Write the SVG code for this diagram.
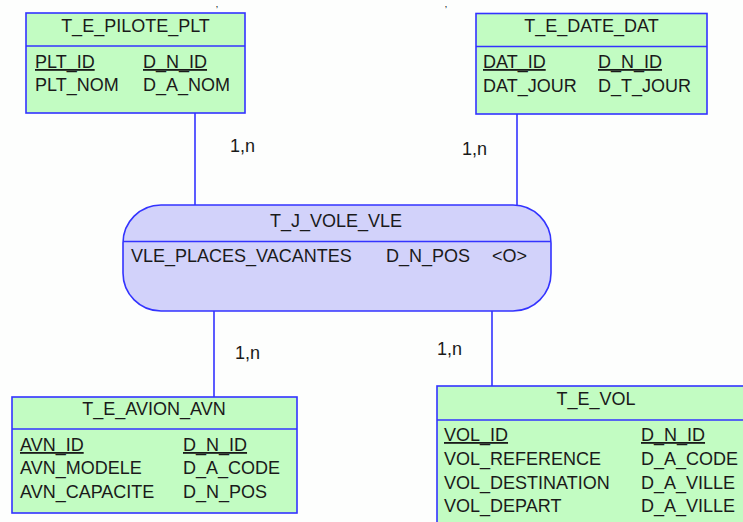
<svg xmlns="http://www.w3.org/2000/svg" width="743" height="522" viewBox="0 0 743 522">
<style>
text{font-family:"Liberation Sans",Arial,sans-serif;font-size:18px;fill:#1a1a1a}
.t{text-anchor:middle}
.u{text-decoration:underline}
.frag{font-size:7px;font-weight:bold}
.ent{fill:#c2fcc2;stroke:#3333ff;stroke-width:1.6}
.rel{fill:#d2d2fa;stroke:#3333ff;stroke-width:1.6}
.sep{stroke:#3333ff;stroke-width:1.6}
.cn{stroke:#3333ff;stroke-width:1.6;fill:none}
</style>
<rect width="743" height="522" fill="#fdfefd"/>
<text class="frag" x="216" y="6.5">,</text>
<text class="frag" x="445" y="6.5">,</text>
<g id="connectors">
<line class="cn" x1="195" y1="113" x2="195" y2="205"/>
<line class="cn" x1="517" y1="114" x2="517" y2="205"/>
<line class="cn" x1="214" y1="311" x2="214" y2="397"/>
<line class="cn" x1="492" y1="311" x2="492" y2="386"/>
<text x="230" y="152">1,n</text>
<text x="462" y="155">1,n</text>
<text x="235" y="359">1,n</text>
<text x="437" y="355">1,n</text>
</g>
<g id="T_E_PILOTE_PLT">
<rect class="ent" x="26" y="13" width="219" height="100"/>
<line class="sep" x1="26" y1="46" x2="245" y2="46"/>
<text class="t" x="135.5" y="32">T_E_PILOTE_PLT</text>
<text class="u" x="35" y="68">PLT_ID</text>
<text class="u" x="143" y="68">D_N_ID</text>
<text x="35" y="91">PLT_NOM</text>
<text x="143" y="91">D_A_NOM</text>
</g>
<g id="T_E_DATE_DAT">
<rect class="ent" x="476" y="13.5" width="231" height="100.5"/>
<line class="sep" x1="476" y1="46.5" x2="707" y2="46.5"/>
<text class="t" x="591.5" y="32">T_E_DATE_DAT</text>
<text class="u" x="483" y="68">DAT_ID</text>
<text class="u" x="598" y="68">D_N_ID</text>
<text x="483" y="92">DAT_JOUR</text>
<text x="598" y="92">D_T_JOUR</text>
</g>
<g id="T_J_VOLE_VLE">
<rect class="rel" x="123" y="205" width="428" height="106" rx="38" ry="38"/>
<line class="sep" x1="123" y1="241.5" x2="551" y2="241.5"/>
<text class="t" x="336" y="227">T_J_VOLE_VLE</text>
<text x="131" y="262">VLE_PLACES_VACANTES</text>
<text x="386" y="262">D_N_POS</text>
<text x="492" y="262">&lt;O&gt;</text>
</g>
<g id="T_E_AVION_AVN">
<rect class="ent" x="12" y="397" width="285" height="116"/>
<line class="sep" x1="12" y1="429" x2="297" y2="429"/>
<text class="t" x="154" y="415">T_E_AVION_AVN</text>
<text class="u" x="20" y="451">AVN_ID</text>
<text class="u" x="183" y="451">D_N_ID</text>
<text x="20" y="474">AVN_MODELE</text>
<text x="183" y="474">D_A_CODE</text>
<text x="20" y="497.5">AVN_CAPACITE</text>
<text x="183" y="497.5">D_N_POS</text>
</g>
<g id="T_E_VOL">
<rect class="ent" x="437" y="386" width="320" height="150"/>
<line class="sep" x1="437" y1="420" x2="757" y2="420"/>
<text class="t" x="596" y="405">T_E_VOL</text>
<text class="u" x="444" y="441">VOL_ID</text>
<text class="u" x="641" y="441">D_N_ID</text>
<text x="444" y="464.5">VOL_REFERENCE</text>
<text x="641" y="464.5">D_A_CODE</text>
<text x="444" y="488.5">VOL_DESTINATION</text>
<text x="641" y="488.5">D_A_VILLE</text>
<text x="444" y="512">VOL_DEPART</text>
<text x="641" y="512">D_A_VILLE</text>
</g>
</svg>
